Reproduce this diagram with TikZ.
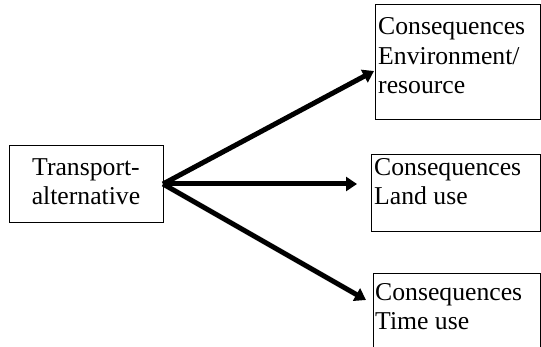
\documentclass[tikz,border=0pt]{standalone}
\usepackage{fontspec}
\setmainfont{Liberation Serif}
\usetikzlibrary{arrows.meta}
\begin{document}
\begin{tikzpicture}[x=1pt,y=-1pt,
  box/.style={draw=black,line width=0.8pt,inner sep=0pt,anchor=north west},
  txt/.style={inner sep=0pt,font=\fontsize{25.7}{29.5}\selectfont},
  conn/.style={line width=5pt,-{Triangle[length=11pt,width=14pt]}}]
\useasboundingbox (0,0) rectangle (541,347);
% boxes
\node[box,minimum width=154pt,minimum height=77pt] (src) at (9,145) {};
\node[box,minimum width=165pt,minimum height=115pt] (env) at (375,4) {};
\node[box,minimum width=169pt,minimum height=77pt] (land) at (371,154) {};
\node[box,minimum width=167pt,minimum height=80pt] (time) at (373,273) {};
% texts (anchor base = baseline of last line)
\node[txt,align=center,anchor=base] (srct) at (86,205) {Transport-\\alternative};
\node[txt,align=left,anchor=base west] (envt) at (378,94) {Consequences\\Environment/\\resource};
\node[txt,align=left,anchor=base west] (landt) at (374,205) {Consequences\\Land use};
\node[txt,align=left,anchor=base west] (timet) at (375,330) {Consequences\\Time use};
% connectors
\coordinate (o) at (163,184);
\coordinate (e1) at (374,71);
\coordinate (e2) at (357,184);
\coordinate (e3) at (366,300);
\draw[conn] (o) -- (e1);
\draw[conn] (o) -- (e2);
\draw[conn] (o) -- (e3);
\end{tikzpicture}
\end{document}
